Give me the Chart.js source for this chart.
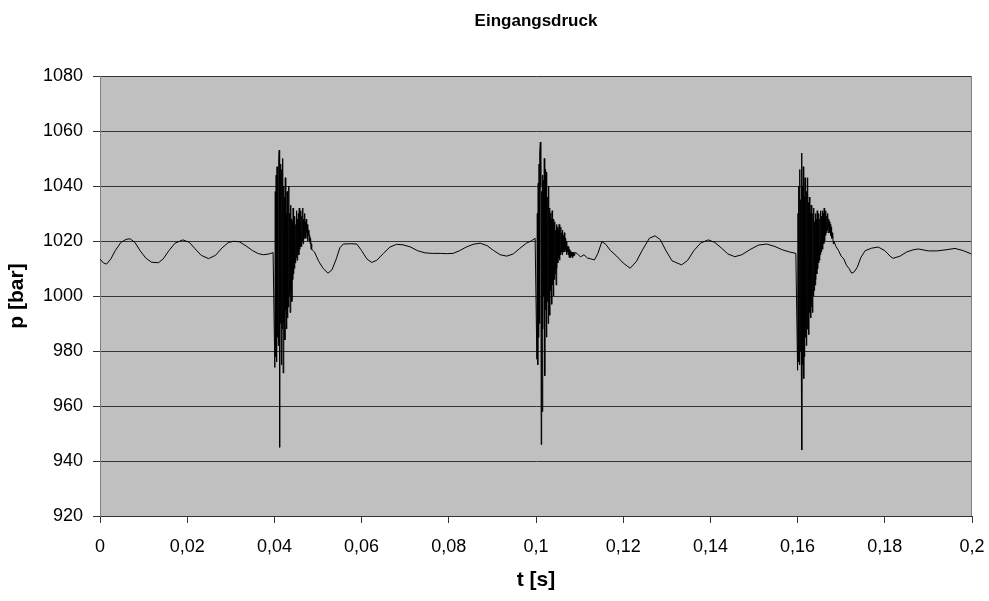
<!DOCTYPE html>
<html>
<head>
<meta charset="utf-8">
<title>Eingangsdruck</title>
<script src="https://cdn.jsdelivr.net/npm/chart.js@4.4.1/dist/chart.umd.min.js"></script>
<style>
  html, body { margin: 0; padding: 0; background: #fff; }
  #wrap { width: 989px; height: 601px; }
</style>
</head>
<body>
<div id="wrap"><canvas id="chart" width="989" height="601"></canvas></div>
<script>
// quiet stretches of the inlet pressure, [t in s, p in bar]
const quietBefore1 = [
  [0.0000, 1013.4], [0.0008, 1012.0], [0.0015, 1011.6], [0.0025, 1013.5], [0.0035, 1016.5],
  [0.0048, 1019.5], [0.0060, 1020.6], [0.0069, 1020.8], [0.0080, 1019.5], [0.0092, 1016.5],
  [0.0105, 1013.8], [0.0118, 1012.3], [0.0134, 1012.1], [0.0145, 1013.5], [0.0158, 1016.5],
  [0.0172, 1019.2], [0.0190, 1020.4], [0.0205, 1019.5], [0.0218, 1017.2], [0.0232, 1014.8],
  [0.0249, 1013.6], [0.0265, 1014.8], [0.0280, 1017.5], [0.0294, 1019.4], [0.0306, 1019.9],
  [0.0320, 1019.7], [0.0335, 1018.2], [0.0350, 1016.5], [0.0363, 1015.4], [0.0375, 1015.0],
  [0.0388, 1015.3], [0.0397, 1015.8],
];
const quietBetween12 = [
  [0.0492, 1016.0], [0.0502, 1012.5], [0.0512, 1010.0], [0.0523, 1008.3], [0.0532, 1009.5],
  [0.0542, 1013.5], [0.0550, 1017.5], [0.0558, 1018.9], [0.0575, 1019.0], [0.0589, 1018.9],
  [0.0600, 1016.5], [0.0612, 1013.5], [0.0623, 1012.2], [0.0635, 1013.0], [0.0650, 1015.5],
  [0.0665, 1017.8], [0.0680, 1018.8], [0.0695, 1018.6], [0.0711, 1017.9], [0.0728, 1016.5],
  [0.0745, 1015.7], [0.0762, 1015.5], [0.0780, 1015.5], [0.0795, 1015.4], [0.0810, 1015.5],
  [0.0825, 1016.5], [0.0840, 1017.8], [0.0856, 1018.8], [0.0872, 1019.2], [0.0888, 1018.3],
  [0.0903, 1016.5], [0.0918, 1015.0], [0.0933, 1014.5], [0.0948, 1015.3], [0.0962, 1017.2],
  [0.0978, 1019.2], [0.0990, 1020.1], [0.0998, 1021.0],
];
const quietBetween23 = [
  [0.1094, 1015.5], [0.1102, 1014.2], [0.1110, 1015.0], [0.1118, 1013.8], [0.1126, 1013.5],
  [0.1134, 1013.1], [0.1142, 1015.5], [0.1151, 1019.8], [0.1160, 1018.8], [0.1171, 1016.5],
  [0.1185, 1014.5], [0.1200, 1012.0], [0.1216, 1010.1], [0.1230, 1012.5], [0.1245, 1017.0],
  [0.1260, 1021.0], [0.1273, 1021.9], [0.1285, 1020.5], [0.1298, 1016.5], [0.1312, 1012.8],
  [0.1334, 1011.3], [0.1348, 1013.0], [0.1362, 1016.5], [0.1378, 1019.3], [0.1395, 1020.4],
  [0.1410, 1019.5], [0.1425, 1017.5], [0.1440, 1015.3], [0.1456, 1014.3], [0.1472, 1015.0],
  [0.1490, 1016.8], [0.1510, 1018.5], [0.1529, 1018.9], [0.1548, 1018.0], [0.1565, 1016.8],
  [0.1582, 1016.0], [0.1596, 1015.5],
];
const quietAfter3 = [
  [0.1688, 1018.0], [0.1694, 1016.5], [0.1700, 1014.5], [0.1706, 1013.5], [0.1712, 1011.2],
  [0.1718, 1010.0], [0.1724, 1008.3], [0.1730, 1008.8], [0.1737, 1010.5], [0.1745, 1014.0],
  [0.1755, 1016.5], [0.1770, 1017.4], [0.1785, 1017.8], [0.1800, 1016.5], [0.1812, 1014.5],
  [0.1819, 1013.7], [0.1835, 1014.5], [0.1850, 1016.0], [0.1865, 1016.8], [0.1877, 1017.1],
  [0.1900, 1016.4], [0.1920, 1016.4], [0.1940, 1016.8], [0.1961, 1017.3], [0.1980, 1016.5],
  [0.2000, 1015.2],
];

// pressure surges when the valve switches, sampled every 0.1 ms
const sampleStep = 0.0001;
const burstStarts = [0.0401, 0.1002, 0.1600];
const burst1 = [
  974, 1038, 978, 1044, 976, 1047, 985, 1040, 982, 1050,
  1053, 945, 1044, 990, 1048, 975, 1046, 988, 1050, 972,
  1040, 990, 1036, 984, 1043, 995, 1030, 988, 1038, 992,
  1034, 996, 1040, 1000, 1030, 994, 1033, 1002, 1028, 998,
  1027, 1006, 1032, 1008, 1025, 1010, 1029, 1012, 1026, 1014,
  1031, 1013, 1028, 1016, 1030, 1015, 1032, 1017, 1027, 1018,
  1031, 1018, 1029, 1020, 1032, 1019, 1028, 1021, 1030, 1022,
  1027, 1021, 1028, 1023, 1026, 1020, 1025, 1022, 1024, 1020,
  1022, 1019, 1021, 1017, 1019, 1017,
];
const burst2 = [
  977, 1030, 975, 1041, 985, 1048, 990, 1052, 1056, 1040,
  946, 1038, 958, 1044, 988, 1042, 1000, 1050, 971, 1046,
  995, 1045, 985, 1038, 998, 1036, 990, 1040, 1000, 1032,
  993, 1030, 1002, 1028, 997, 1031, 1004, 1026, 1000, 1028,
  1006, 1027, 1008, 1024, 1004, 1026, 1010, 1025, 1012, 1024,
  1014, 1026, 1013, 1024, 1015, 1025, 1016, 1023, 1015, 1024,
  1016, 1022, 1017, 1023, 1016, 1021, 1017, 1020, 1015, 1019,
  1016, 1018, 1015, 1018, 1014, 1017, 1015, 1016.5, 1014, 1016,
  1014.5, 1016, 1014, 1015.5, 1014.5, 1016, 1014.8, 1015.8,
];
const burst3 = [
  973, 1030, 976, 1040, 975, 1046, 980, 1035, 990, 1052,
  944, 1040, 975, 1047, 970, 1036, 978, 1043, 985, 1040,
  982, 1038, 988, 1043, 990, 1034, 986, 1036, 994, 1030,
  992, 1033, 996, 1028, 994, 1030, 1000, 1032, 1002, 1027,
  1004, 1030, 1006, 1028, 1008, 1031, 1010, 1027, 1012, 1030,
  1013, 1028, 1015, 1031, 1016, 1029, 1018, 1031, 1017, 1030,
  1019, 1032, 1020, 1030, 1022, 1031, 1023, 1029, 1024, 1030,
  1023, 1028, 1025, 1027, 1023, 1026, 1022, 1025, 1021, 1023,
  1021, 1022, 1019, 1020,
];

const timeTicks = [0, 0.02, 0.04, 0.06, 0.08, 0.1, 0.12, 0.14, 0.16, 0.18, 0.2];
const timeTickLabels = ["0", "0,02", "0,04", "0,06", "0,08", "0,1", "0,12", "0,14", "0,16", "0,18", "0,2"];
const pressureTicks = [920, 940, 960, 980, 1000, 1020, 1040, 1060, 1080];

const plotGrey = "#c0c0c0";
const gridColor = "#333333";
const frameColor = "#808080";

function burstPoints(start, values) {
  return values.map((p, i) => ({ x: start + i * sampleStep, y: p }));
}

function pairPoints(list) {
  return list.map(([t, p]) => ({ x: t, y: p }));
}

const series = [
  ...pairPoints(quietBefore1),
  ...burstPoints(burstStarts[0], burst1),
  ...pairPoints(quietBetween12),
  ...burstPoints(burstStarts[1], burst2),
  ...pairPoints(quietBetween23),
  ...burstPoints(burstStarts[2], burst3),
  ...pairPoints(quietAfter3),
];

// grey plot area, right frame edge and the heading centred over the plot
const plotFrame = {
  id: "plotFrame",
  beforeDraw(chart) {
    const { ctx, chartArea: a } = chart;
    ctx.save();
    ctx.fillStyle = plotGrey;
    ctx.fillRect(a.left, a.top, a.right - a.left, a.bottom - a.top);
    ctx.restore();
  },
  afterDraw(chart) {
    const { ctx, chartArea: a } = chart;
    ctx.save();
    ctx.strokeStyle = frameColor;
    ctx.lineWidth = 1;
    ctx.beginPath();
    const x = Math.round(a.right) - 0.5;
    ctx.moveTo(x, a.top);
    ctx.lineTo(x, a.bottom);
    ctx.stroke();

    ctx.fillStyle = "#000";
    ctx.font = "bold 17px 'Liberation Sans', Arial, sans-serif";
    ctx.textAlign = "center";
    ctx.textBaseline = "alphabetic";
    ctx.fillText("Eingangsdruck", (a.left + a.right) / 2, 26);
    ctx.restore();
  },
};

Chart.defaults.font.family = "'Liberation Sans', Arial, sans-serif";
Chart.defaults.color = "#000";

new Chart(document.getElementById("chart"), {
  type: "line",
  data: {
    datasets: [
      {
        label: "p",
        data: series,
        borderColor: "#000",
        borderWidth: 1,
        pointRadius: 0,
        tension: 0,
        fill: false,
      },
    ],
  },
  options: {
    responsive: false,
    animation: false,
    events: [],
    layout: { padding: { top: 76, right: 17, left: 0, bottom: 0 } },
    plugins: {
      legend: { display: false },
      title: { display: false },
      tooltip: { enabled: false },
    },
    scales: {
      x: {
        type: "linear",
        min: 0,
        max: 0.2,
        afterBuildTicks(scale) {
          scale.ticks = timeTicks.map((v) => ({ value: v }));
        },
        afterFit(scale) {
          scale.height = 85;
          // the last label may hang into the right margin
          scale.paddingLeft = 0;
          scale.paddingRight = 0;
        },
        ticks: {
          font: { size: 18 },
          padding: 13,
          maxRotation: 0,
          autoSkip: false,
          callback: (v, i) => timeTickLabels[i],
        },
        grid: {
          drawOnChartArea: false,
          drawTicks: true,
          tickLength: 7,
          color: gridColor,
          tickColor: gridColor,
        },
        border: { color: gridColor, width: 1 },
        title: {
          display: true,
          text: "t [s]",
          font: { size: 21, weight: "bold" },
          padding: { top: 4, bottom: 8 },
        },
      },
      y: {
        min: 920,
        max: 1080,
        afterBuildTicks(scale) {
          scale.ticks = pressureTicks.map((v) => ({ value: v }));
        },
        afterFit(scale) {
          scale.width = 100;
        },
        ticks: {
          font: { size: 18 },
          padding: 10,
          callback: (v) => String(v),
        },
        grid: {
          color: gridColor,
          tickColor: gridColor,
          tickLength: 7,
          lineWidth: 1,
        },
        border: { color: frameColor, width: 1 },
        title: {
          display: true,
          text: "p [bar]",
          font: { size: 21, weight: "bold" },
          padding: { top: 5, bottom: 4 },
        },
      },
    },
  },
  plugins: [plotFrame],
});
</script>
</body>
</html>
